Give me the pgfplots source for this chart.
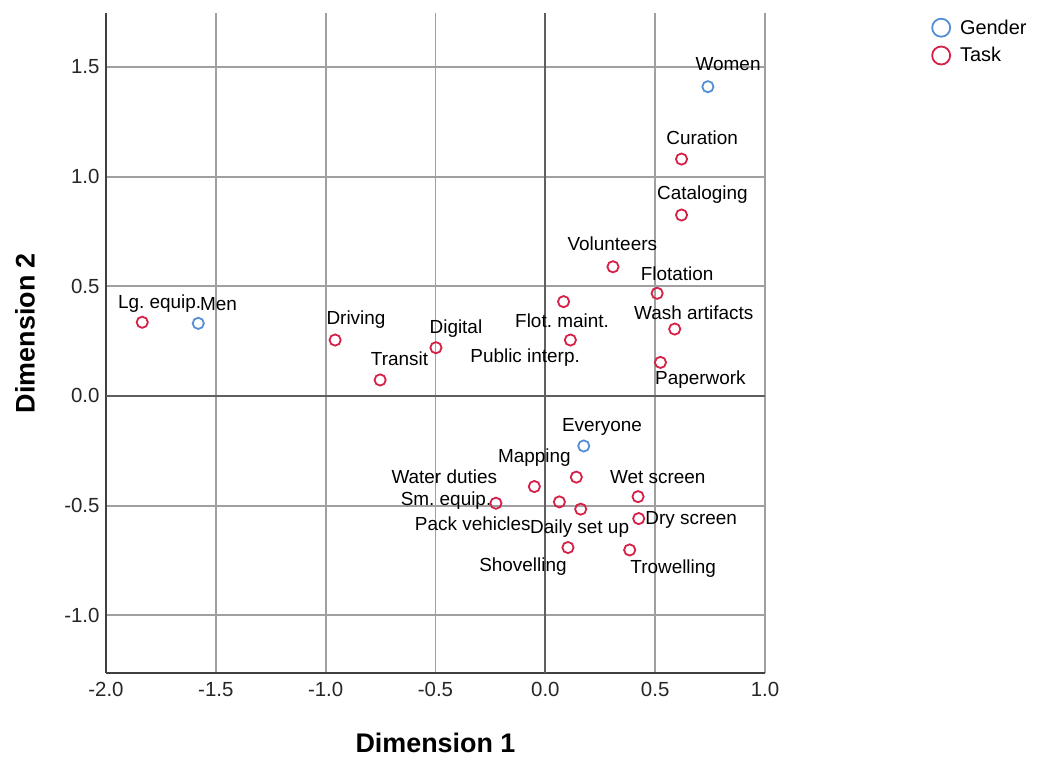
\documentclass[border=0pt]{standalone}
\usepackage{fontspec}
\setmainfont{Liberation Sans}
\usepackage{pgfplots}
\pgfplotsset{compat=1.18}
\definecolor{gblue}{RGB}{84,142,214}
\definecolor{tred}{RGB}{214,32,72}
\definecolor{gridc}{RGB}{160,160,160}
\definecolor{refc}{RGB}{95,95,95}
\newcommand{\lab}{\fontsize{19}{19}\selectfont}
\frenchspacing
\begin{document}
\begin{tikzpicture}[x=1bp,y=1bp]
\path[use as bounding box] (0,0) rectangle (1037,758);
\begin{axis}[
  at={(106bp,85bp)}, anchor=south west,
  scale only axis, width=659bp, height=660bp,
  xmin=-2, xmax=1, ymin=-1.263, ymax=1.746,
  xtick={-2,-1.5,-1,-0.5,0,0.5,1},
  ytick={-1,-0.5,0,0.5,1,1.5},
  /pgf/number format/.cd, fixed, fixed zerofill, precision=1, assume math mode=true,
  /pgfplots/.cd,
  grid=major,
  major grid style={gridc, line width=1.8bp},
  major tick length=0pt,
  axis x line*=bottom, axis y line*=left,
  axis line style={-, black!75, line width=2bp},
  ticklabel style={font=\fontsize{20.5}{20.5}\selectfont, text=black!85},
  xticklabel style={yshift=-6bp},
  yticklabel style={xshift=-3bp},
  extra x ticks={0}, extra y ticks={0},
  extra x tick labels={}, extra y tick labels={},
  extra tick style={grid=major, major grid style={refc, line width=1.8bp}},
  xlabel={\textbf{Dimension 1}},
  ylabel={\textbf{Dimension 2}},
  xlabel style={font=\fontsize{27}{27}\selectfont, at={(axis description cs:0.5,-0.106)}, anchor=center, inner sep=0pt},
  ylabel style={font=\fontsize{27}{27}\selectfont, at={(axis description cs:-0.123,0.515)}, anchor=center, rotate=0, inner sep=0pt},
  legend image code/.code={\draw[line width=1.8bp] (0bp,0bp) circle (9bp);},
  legend style={at={(rel axis cs:1.252,0.993)}, anchor=north west, draw=none, fill=none,
    font=\fontsize{20}{20}\selectfont, row sep=8bp, inner sep=0pt,
    nodes={inner sep=1bp},
    /tikz/every odd column/.append style={column sep=8bp}},
  legend cell align=left,
  clip=false,
]
\addplot[only marks, mark=o, color=gblue, mark size=5.6bp, mark options={line width=1.8bp}] coordinates {
  (0.74,1.41) (-1.58,0.331) (0.175,-0.228)
};
\addlegendentry{Gender}
\addplot[only marks, mark=o, color=tred, mark size=5.6bp, mark options={line width=1.8bp}] coordinates {
  (0.62,1.08) (0.62,0.825) (0.308,0.589) (0.509,0.468) (0.083,0.43)
  (0.589,0.305) (0.114,0.255) (0.524,0.153) (-1.835,0.336) (-0.957,0.255)
  (-0.752,0.073) (-0.498,0.22) (0.141,-0.37) (-0.05,-0.413) (-0.225,-0.489)
  (0.064,-0.483) (0.161,-0.516) (0.422,-0.459) (0.425,-0.559) (0.103,-0.691)
  (0.384,-0.702)
};
\addlegendentry{Task}
\begin{scope}[every node/.style={font=\lab, inner sep=0pt, anchor=center}]
\node at (axis cs:0.832,1.511) {Women};
\node at (axis cs:-1.488,0.419) {Men};
\node at (axis cs:0.258,-0.14) {Everyone};
\node at (axis cs:0.714,1.177) {Curation};
\node at (axis cs:0.715,0.916) {Cataloging};
\node at (axis cs:0.305,0.692) {Volunteers};
\node at (axis cs:0.600,0.556) {Flotation};
\node at (axis cs:0.076,0.343) {Flot. maint.};
\node at (axis cs:0.676,0.381) {Wash artifacts};
\node at (axis cs:-0.092,0.176) {Public interp.};
\node at (axis cs:0.706,0.073) {Paperwork};
\node at (axis cs:-1.756,0.422) {Lg. equip.};
\node at (axis cs:-0.862,0.346) {Driving};
\node at (axis cs:-0.664,0.169) {Transit};
\node at (axis cs:-0.407,0.308) {Digital};
\node at (axis cs:-0.05,-0.279) {Mapping};
\node at (axis cs:-0.46,-0.368) {Water duties};
\node at (axis cs:0.512,-0.368) {Wet screen};
\node at (axis cs:-0.452,-0.478) {Sm. equip.};
\node at (axis cs:-0.33,-0.583) {Pack vehicles};
\node at (axis cs:0.156,-0.606) {Daily set up};
\node at (axis cs:0.664,-0.565) {Dry screen};
\node at (axis cs:-0.102,-0.778) {Shovelling};
\node at (axis cs:0.582,-0.785) {Trowelling};
\end{scope}
\end{axis}
\end{tikzpicture}
\end{document}
